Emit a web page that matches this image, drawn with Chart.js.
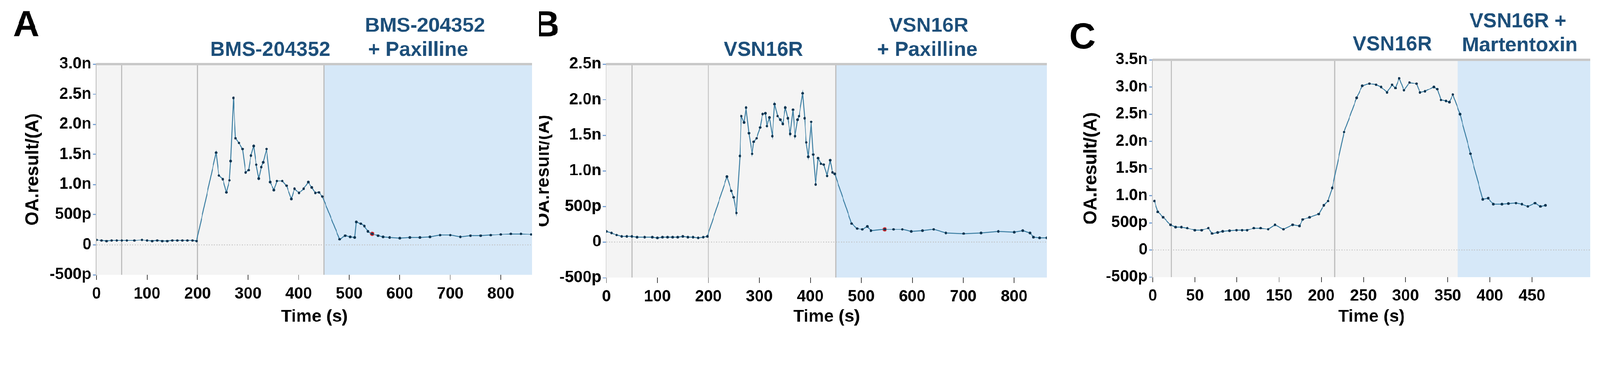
<!DOCTYPE html>
<html><head><meta charset="utf-8">
<script src="https://cdn.jsdelivr.net/npm/chart.js@4"></script>
<style>html,body{margin:0;padding:0;background:#fff;overflow:hidden}
#wrap{position:absolute;left:0;top:0;width:4393px;height:944px;transform-origin:0 0}
canvas{position:absolute;top:0}</style></head>
<body>
<div id="wrap">
<canvas id="a" width="1480" height="944" style="left:0;width:1480px;height:944px"></canvas>
<canvas id="b" width="1410" height="944" style="left:1480px;width:1410px;height:944px"></canvas>
<canvas id="c" width="1493" height="944" style="left:2900px;width:1493px;height:944px"></canvas>
</div>
<script>
// Panel A (time s, current nA)
const timeA=[0,10,20,30,40,50,60,75,90,100,110,120,130,140,150,160,170,180,190,198,236.6,242,250,257,263,265.5,271,275,282,289,295,301,305.5,311,316,321,326,330,336.5,343.5,351,357,367.6,376,385.5,391.7,400.7,410,419,426,433,440,447,481,492,502,511,514,523,530,537,545.5,557,567,580,600,620,640,660,680,700,720,740,760,780,800,820,840,860];
const valA=[0.08,0.07,0.06,0.07,0.07,0.07,0.07,0.07,0.08,0.07,0.06,0.07,0.06,0.06,0.07,0.07,0.07,0.07,0.07,0.06,1.53,1.15,1.09,0.87,1.07,1.39,2.44,1.77,1.69,1.59,1.2,1.24,1.48,1.64,1.33,1.1,1.29,1.37,1.59,1.04,0.91,1.06,1.06,0.98,0.76,0.93,0.86,0.93,1.04,0.95,0.86,0.87,0.8,0.09,0.15,0.13,0.12,0.38,0.35,0.31,0.22,0.18,0.15,0.13,0.12,0.11,0.12,0.12,0.13,0.16,0.16,0.13,0.15,0.15,0.16,0.17,0.18,0.18,0.17];
const redA=[[545.5,0.18]];
// Panel B
const timeB=[0,10,20,30,40,50,60,75,90,100,110,120,130,140,150,160,170,180,190,198,236.5,245,249.5,255,262,264.6,270,274,279.7,285.8,289,294.8,301.6,306.4,311.9,315,320,325.6,330,335.9,341.4,346,351,356,360.6,366,370,375,378,385,389,392,396,401.7,405.8,410.6,415.4,421,426.4,433,439,443.5,448,481,492,502,512,519,546,563.5,580.6,598,620,642,666,701,735,769,800,817,831,838,850,864];
const valB=[0.15,0.13,0.1,0.08,0.08,0.08,0.07,0.07,0.07,0.06,0.07,0.07,0.07,0.07,0.08,0.07,0.07,0.06,0.07,0.08,0.92,0.72,0.63,0.41,1.21,1.77,1.68,1.89,1.53,1.24,1.41,1.46,1.61,1.8,1.81,1.63,1.75,1.49,1.94,1.77,1.72,1.66,1.89,1.74,1.52,1.86,1.49,1.72,1.77,2.09,1.74,1.4,1.2,1.69,1.23,0.81,1.18,1.1,1.09,0.93,1.15,0.98,0.96,0.26,0.19,0.18,0.22,0.16,0.18,0.18,0.18,0.15,0.16,0.18,0.13,0.12,0.13,0.15,0.14,0.16,0.13,0.07,0.06,0.06];
const redB=[[546,0.18]];
// Panel C
const timeC=[2,6,12.4,21,27,34,41,50,58,66,70.4,77,83,91,99.4,106,112,120,128,137,145,155,166,174,178,186,197,203,208,213,227,242,248.6,257,265,271,278,284,288,292.4,298,304.6,313,317,323,333.5,337.7,342,348,352,356,364.6,377,391.5,398,404,414.4,422,431,438,445,453.6,460,466];
const valC=[0.9,0.7,0.6,0.46,0.42,0.42,0.4,0.36,0.36,0.4,0.3,0.32,0.34,0.35,0.36,0.36,0.36,0.4,0.4,0.38,0.46,0.38,0.46,0.44,0.56,0.6,0.66,0.82,0.9,1.14,2.17,2.8,3.02,3.06,3.04,3.0,2.9,3.04,2.98,3.16,2.94,3.08,3.06,2.9,2.92,3.0,2.96,2.76,2.74,2.72,2.86,2.5,1.77,0.93,0.95,0.84,0.84,0.85,0.86,0.84,0.8,0.86,0.8,0.82];
const redC=[];
const yTicksA=[-0.5,0,0.5,1,1.5,2,2.5,3];
const yTicksB=[-0.5,0,0.5,1,1.5,2,2.5];
const yTicksC=[-0.5,0,0.5,1,1.5,2,2.5,3,3.5];
const xTicksA=[0,100,200,300,400,500,600,700,800];
const xTicksC=[0,50,100,150,200,250,300,350,400,450];

(function(){const w=document.documentElement.clientWidth||window.innerWidth||4393;
  const s=w/4393; if(Math.abs(s-1)>0.002)document.getElementById('wrap').style.transform='scale('+s+')';})();

const F='"Liberation Sans", Arial, sans-serif';
function fmt(v){if(v===0)return '0';if(Math.abs(v)<1)return Math.round(v*1000)+'p';return v.toFixed(1)+'n';}

function make(id,cfg){
  const pts=cfg.t.map((t,i)=>({x:t,y:cfg.v[i]}));
  const bg={id:'bg',beforeDatasetsDraw(ch){
    const {ctx,chartArea:a,scales:{x,y}}=ch;ctx.save();
    ctx.fillStyle='#f4f4f4';ctx.fillRect(a.left,a.top,a.right-a.left,a.bottom-a.top);
    const sx=x.getPixelForValue(cfg.shade);
    ctx.fillStyle='#d6e8f8';ctx.fillRect(sx,a.top,a.right-sx,a.bottom-a.top);
    ctx.strokeStyle='#bdbdbd';ctx.lineWidth=3;
    cfg.lines.forEach(v=>{const p=x.getPixelForValue(v);ctx.beginPath();ctx.moveTo(p,a.top);ctx.lineTo(p,a.bottom);ctx.stroke();});
    ctx.lineWidth=6;ctx.strokeStyle='#c8c8c8';ctx.beginPath();ctx.moveTo(a.left,a.top);ctx.lineTo(a.right,a.top);ctx.stroke();
    const zy=y.getPixelForValue(0);ctx.setLineDash([3,4]);ctx.lineWidth=2;ctx.strokeStyle='#c0c0c0';
    ctx.beginPath();ctx.moveTo(a.left,zy);ctx.lineTo(a.right,zy);ctx.stroke();
    ctx.restore();
  },afterDraw(ch){
    const {ctx,chartArea:a}=ch;ctx.save();
    ctx.fillStyle='#000';ctx.textAlign='center';ctx.textBaseline='middle';
    ctx.font='bold 100px '+F;ctx.fillText(cfg.letter[0],cfg.letter[1],cfg.letter[2]);
    ctx.font='bold 48px '+F;ctx.fillText('Time (s)',(a.left+a.right)/2,870);
    ctx.save();ctx.translate(cfg.yt,(a.top+a.bottom)/2);ctx.rotate(-Math.PI/2);ctx.font='bold 50px '+F;ctx.fillText('OA.result/(A)',0,0);ctx.restore();
    ctx.fillStyle='#1d4f7a';ctx.font='bold 56px '+F;
    cfg.notes.forEach(n=>ctx.fillText(n[0],n[1],n[2]));
    ctx.restore();
  }};
  new Chart(document.getElementById(id),{type:'line',
    data:{datasets:[{data:pts,borderColor:'#3d7fa3',borderWidth:2.5,pointRadius:3.5,pointBackgroundColor:'#0c3450',pointBorderWidth:0,tension:0},
      {data:cfg.red.map(p=>({x:p[0],y:p[1]})),showLine:false,pointRadius:6,pointBackgroundColor:'#e0282b',pointBorderWidth:0}]},
    options:{responsive:false,maintainAspectRatio:false,animation:false,devicePixelRatio:1,
      layout:{padding:{left:0,right:cfg.pr,top:cfg.top,bottom:0}},
      plugins:{legend:{display:false},tooltip:{enabled:false}},
      scales:{
        x:{type:'linear',min:0,max:cfg.xmax,afterBuildTicks(s){s.ticks=cfg.xt.map(v=>({value:v}));},
          afterFit(s){s.height=cfg.xh;},
          grid:{drawOnChartArea:false,tickLength:14,color:'#444',lineWidth:2},border:{display:false},
          ticks:{font:{family:F,size:44,weight:'bold'},color:'#000',padding:12,maxRotation:0,autoSkip:false}},
        y:{type:'linear',min:cfg.yt2[0],max:cfg.yt2[cfg.yt2.length-1],afterBuildTicks(s){s.ticks=cfg.yt2.map(v=>({value:v}));},
          afterFit(s){s.width=cfg.yw;},
          grid:{drawOnChartArea:false,tickLength:10,color:'#7aa3d6',lineWidth:3},border:{color:'#bdbdbd',width:4},
          ticks:{font:{family:F,size:44,weight:'bold'},color:'#000',padding:4,callback:v=>fmt(v),autoSkip:false}}
      }},plugins:[bg]});
}
make('a',{t:timeA,v:valA,red:redA,xmax:862,xt:xTicksA,yt2:yTicksA,pr:19,top:176,xh:190,yw:265,shade:450,lines:[50,200,450],
  letter:['A',72,72],yt:91,notes:[['BMS-204352',742,138],['BMS-204352',1167,72],['+ Paxilline',1148,138]]});
make('b',{t:timeB,v:valB,red:redB,xmax:864,xt:xTicksA,yt2:yTicksB,pr:16,top:176,xh:182,yw:185,shade:450,lines:[50,200,450],
  letter:['B',20,72],yt:13,notes:[['VSN16R',616,138],['VSN16R',1070,72],['+ Paxilline',1066,138]]});
make('c',{t:timeC,v:valC,red:redC,xmax:519,xt:xTicksC,yt2:yTicksC,pr:27,top:164,xh:184,yw:265,shade:362,lines:[22,216],
  letter:['C',72,105],yt:96,notes:[['VSN16R',923,123],['VSN16R +',1268,60],['Martentoxin',1273,126]]});
</script></body></html>
